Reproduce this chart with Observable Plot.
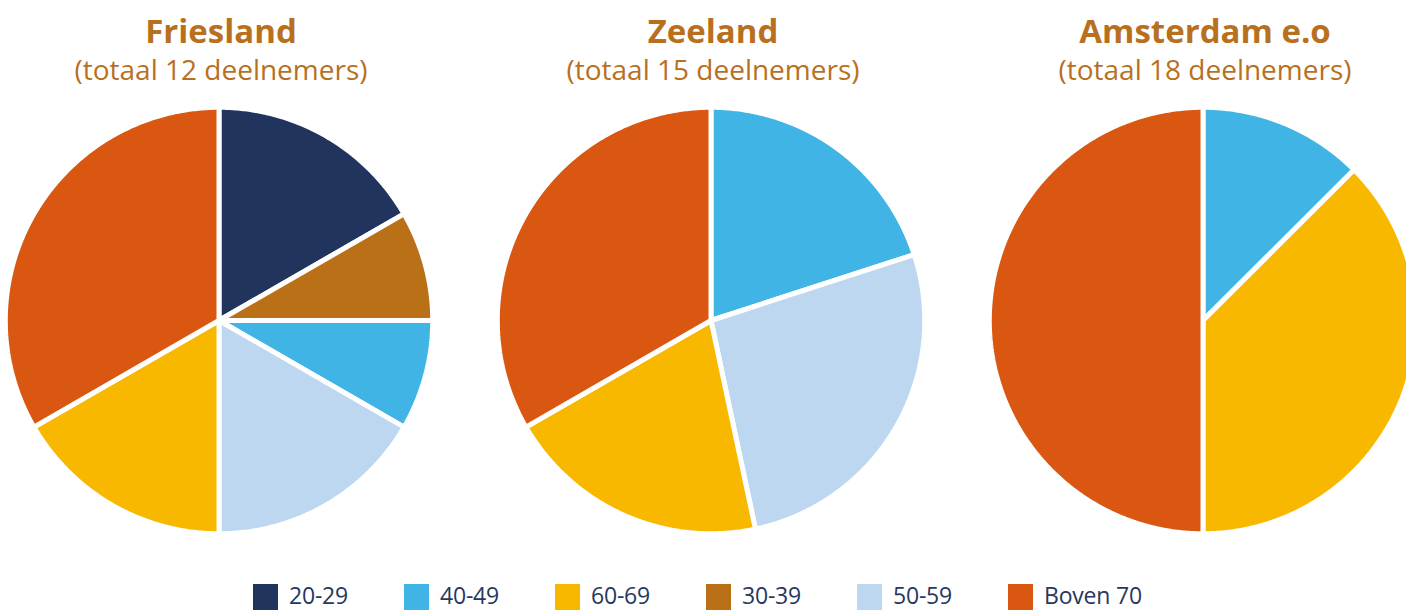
<!DOCTYPE html>
<html>
<head>
<meta charset="utf-8">
<script src="https://cdn.jsdelivr.net/npm/d3@7"></script>
<script src="https://cdn.jsdelivr.net/npm/@observablehq/plot@0.6"></script>
<style>
  html, body { margin: 0; padding: 0; background: #fff; overflow: hidden; }
  #chart svg { display: block; }
  .legend { display: flex; margin-left: 253px; padding-top: 9px; font-family: "Open Sans", sans-serif; }
  .legend .item { width: 151px; display: flex; align-items: flex-start; }
  .legend .sw { width: 25px; height: 26px; margin-right: 11px; flex: none; }
  .legend .lb { font-size: 23px; line-height: 23px; color: #26385f; letter-spacing: -0.2px; }
</style>
</head>
<body>
<div id="chart"></div>
<script>
// ---- data ----
const regions = ["Friesland", "Zeeland", "Amsterdam e.o"];
const totals = [12, 15, 18];
const ageGroups = ["20-29", "30-39", "40-49", "50-59", "60-69", "Boven 70"]; // pie order (clockwise)
const legendOrder = ["20-29", "40-49", "60-69", "30-39", "50-59", "Boven 70"];
const colors = ["#20345e", "#b97016", "#41b4e6", "#bdd7f0", "#f9b800", "#d95711"];
const friesland = [2, 1, 1, 2, 2, 4];
const zeeland = [0, 0, 3, 4, 3, 5];
const amsterdam = [0, 0, 2, 0, 6, 8];
const seriesByRegion = [friesland, zeeland, amsterdam];

// ---- build slice outlines (in unit-circle data space) ----
const points = [];
regions.forEach((region, ri) => {
  const vals = seriesByRegion[ri];
  const arcs = d3.pie().sort(null)(vals);
  arcs.forEach((a, ai) => {
    if (a.value <= 0) return;
    const key = region + "|" + ageGroups[ai];
    const age = ageGroups[ai];
    points.push({region, age, key, x: 0, y: 0});
    const n = Math.max(2, Math.ceil((a.endAngle - a.startAngle) / (Math.PI / 360)));
    for (let k = 0; k <= n; k++) {
      const t = a.startAngle + (a.endAngle - a.startAngle) * k / n;
      points.push({region, age, key, x: Math.sin(t), y: Math.cos(t)});
    }
    points.push({region, age, key, x: 0, y: 0});
  });
});

const titles = regions.map((r, i) => ({region: r, title: r, sub: `(totaal ${totals[i]} deelnemers)`}));
const titleColor = "#b8701f";

const plot = Plot.plot({
  width: 1406,
  height: 575,
  marginLeft: 8,
  marginRight: -7,
  marginTop: 110,
  marginBottom: 45,
  style: {fontFamily: "'Open Sans', sans-serif", background: "#fff", overflow: "visible"},
  fx: {domain: regions, axis: null, paddingInner: 0.145, paddingOuter: 0},
  x: {domain: [-0.985, 0.985], axis: null},
  y: {domain: [-0.985, 0.985], axis: null},
  color: {domain: ageGroups, range: colors},
  marks: [
    Plot.line(points, {fx: "region", x: "x", y: "y", z: "key", fill: "age", stroke: "white", strokeWidth: 5, strokeLinejoin: "miter", curve: "linear"}),
    Plot.text(titles, {fx: "region", text: "title", frameAnchor: "top", dx: 2, dy: -91, fontSize: 33, fontWeight: "bold", fill: titleColor}),
    Plot.text(titles, {fx: "region", text: "sub", frameAnchor: "top", dx: 2, dy: -50, fontSize: 28, fill: titleColor})
  ]
});
document.getElementById("chart").appendChild(plot);

// ---- legend ----
const legend = document.createElement("div");
legend.className = "legend";
legendOrder.forEach(age => {
  const item = document.createElement("div");
  item.className = "item";
  const sw = document.createElement("div");
  sw.className = "sw";
  sw.style.background = colors[ageGroups.indexOf(age)];
  const lb = document.createElement("span");
  lb.className = "lb";
  lb.textContent = age;
  item.appendChild(sw);
  item.appendChild(lb);
  legend.appendChild(item);
});
document.body.appendChild(legend);
</script>
</body>
</html>
